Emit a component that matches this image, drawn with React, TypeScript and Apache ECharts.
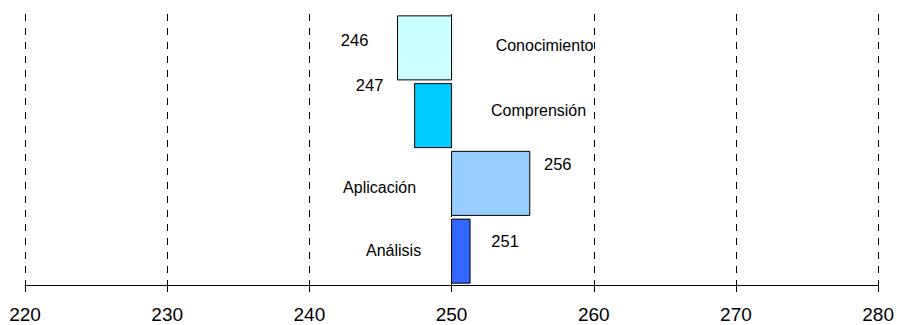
import React, { useEffect, useRef } from "react";
import * as echarts from "echarts";

const categories = ["Conocimiento", "Comprensión", "Aplicación", "Análisis"];
const values = [246.2, 247.4, 255.5, 251.3];
const baseline = 250;
const colors = ["#CCFFFF", "#00CCFF", "#99CCFF", "#3366FF"];
const xTicks = { min: 220, max: 280, interval: 10 };

// label layout offsets (px) — value label relative to bar end, category label relative to baseline
const valueLabelOffsets = [
  [-43, -8],
  [-45, -31],
  [28, -19],
  [35, -10],
];
const categoryLabelOffsets = [
  [93, -2],
  [87, -5],
  [-72, 4],
  [-58, -1],
];

const FONT = "Arial, 'Liberation Sans', sans-serif";

export default function App() {
  const ref = useRef<HTMLDivElement>(null);
  useEffect(() => {
    if (!ref.current) return;
    const chart = echarts.init(ref.current, undefined, { renderer: "svg" });
    const data = values.map((v, i) => [i, v]);
    chart.setOption({
      animation: false,
      backgroundColor: "#ffffff",
      grid: { left: 25, right: 17, top: 14, bottom: 40, containLabel: false },
      xAxis: {
        type: "value",
        min: xTicks.min,
        max: xTicks.max,
        interval: xTicks.interval,
        axisLine: { show: true, lineStyle: { color: "#000", width: 1 } },
        axisTick: { show: true, length: 7, lineStyle: { color: "#000" } },
        axisLabel: { color: "#000", fontSize: 19, fontFamily: FONT, margin: 20 },
        splitLine: {
          show: true,
          lineStyle: { color: "#000", type: [7, 7], width: 1 },
        },
      },
      yAxis: {
        type: "category",
        data: categories,
        inverse: true,
        axisLine: { show: false },
        axisTick: { show: false },
        axisLabel: { show: false },
        splitLine: { show: false },
      },
      series: [
        {
          type: "custom",
          encode: { x: 1, y: 0 },
          data,
          renderItem: (params: any, api: any) => {
            const i = api.value(0);
            const v = api.value(1);
            const b = api.coord([baseline, i]);
            const e = api.coord([v, i]);
            const h = api.size([0, 1])[1] * 0.945;
            const x0 = Math.min(b[0], e[0]);
            const w = Math.abs(e[0] - b[0]);
            const vo = valueLabelOffsets[i];
            const co = categoryLabelOffsets[i];
            return {
              type: "group",
              children: [
                {
                  type: "rect",
                  shape: { x: x0, y: b[1] - h / 2, width: w, height: h },
                  style: { fill: colors[i], stroke: "#000", lineWidth: 1 },
                },
                {
                  type: "text",
                  x: e[0] + vo[0],
                  y: b[1] + vo[1],
                  style: {
                    text: String(Math.round(v)),
                    fill: "#000",
                    fontSize: 16.5,
                    fontFamily: FONT,
                    align: "center",
                    verticalAlign: "middle",
                  },
                },
                {
                  type: "text",
                  x: b[0] + co[0],
                  y: b[1] + co[1],
                  style: {
                    text: categories[i],
                    fill: "#000",
                    fontSize: 16,
                    fontFamily: FONT,
                    align: "center",
                    verticalAlign: "middle",
                  },
                },
              ],
            };
          },
        },
      ],
    });
    return () => chart.dispose();
  }, []);
  return (
    <div
      ref={ref}
      style={{ position: "fixed", left: 0, top: 0, width: 897, height: 325 }}
    />
  );
}
